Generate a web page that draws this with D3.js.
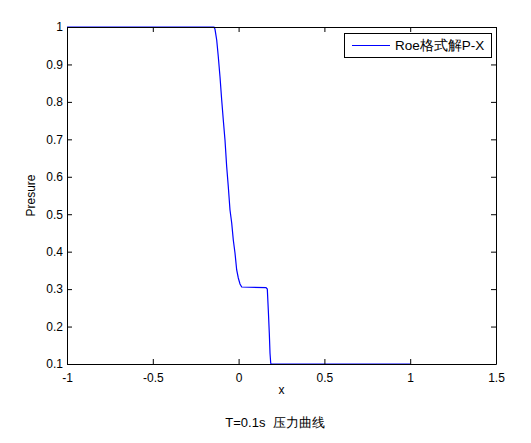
<!DOCTYPE html>
<html><head><meta charset="utf-8">
<script src="https://cdn.jsdelivr.net/npm/d3@7"></script>
<style>
body{margin:0;background:#fff;}
text{font-family:"Liberation Sans",Arial,sans-serif;}
</style></head>
<body><svg id="c" width="531" height="443"></svg>
<script>
const xs = [-1, -0.1434, -0.1375, -0.1276, -0.1183, -0.1084, -0.0985, -0.0892, -0.0793, -0.0694, -0.0600, -0.0501, -0.0402, -0.0309, -0.0210, -0.0111, -0.0017, 0.0082, 0.0181, 0.1597, 0.1673, 0.1731, 0.1789, 0.1830, 0.1871, 0.1888, 1];
const ps = [1, 1, 0.9939, 0.9653, 0.9207, 0.8673, 0.8050, 0.7516, 0.6982, 0.6269, 0.5735, 0.5113, 0.4766, 0.4312, 0.3965, 0.3511, 0.3297, 0.3137, 0.3056, 0.3038, 0.300, 0.2442, 0.1828, 0.1294, 0.1027, 0.1, 0.1];
const xTicks = [-1, -0.5, 0, 0.5, 1, 1.5];
const yTicks = [0.1, 0.2, 0.3, 0.4, 0.5, 0.6, 0.7, 0.8, 0.9, 1];
const legendLabel = "Roe格式解P-X";
const xLabel = "x";
const yLabel = "Presure";
const title = "T=0.1s  压力曲线";

const L = 67, R = 496, T = 27, B = 364;
const svg = d3.select("#c");
const x = d3.scaleLinear().domain([-1, 1.5]).range([L, R]);
const y = d3.scaleLinear().domain([0.1, 1]).range([B, T]);

// data line
const data = xs.map((v, i) => [v, ps[i]]);
svg.append("path").datum(data)
  .attr("fill", "none").attr("stroke", "#0000ff").attr("stroke-width", 1.2)
  .attr("d", d3.line().x(d => x(d[0])).y(d => y(d[1])));

// axes
const fmt = d => String(d);
const gx = svg.append("g").attr("transform", `translate(0,${B})`)
  .call(d3.axisBottom(x).tickValues(xTicks).tickFormat(fmt).tickSizeInner(-5).tickSizeOuter(0).tickPadding(9));
const gxt = svg.append("g").attr("transform", `translate(0,${T})`)
  .call(d3.axisTop(x).tickValues(xTicks).tickFormat("").tickSizeInner(-5).tickSizeOuter(0));
const gy = svg.append("g").attr("transform", `translate(${L},0)`)
  .call(d3.axisLeft(y).tickValues(yTicks).tickFormat(fmt).tickSizeInner(-5).tickSizeOuter(0).tickPadding(4));
const gyr = svg.append("g").attr("transform", `translate(${R},0)`)
  .call(d3.axisRight(y).tickValues(yTicks).tickFormat("").tickSizeInner(-5).tickSizeOuter(0));
[gx, gxt, gy, gyr].forEach(g => {
  g.selectAll("path.domain").attr("stroke", "#000").attr("stroke-width", 1);
  g.selectAll("line").attr("stroke", "#000");
  g.selectAll("text").attr("font-size", 12).attr("fill", "#000").attr("font-family", "'Liberation Sans',Arial,sans-serif");
});
gx.selectAll("text").attr("dy", "0.71em");

// labels
svg.append("text").attr("x", (L + R) / 2).attr("y", 394).attr("text-anchor", "middle")
  .attr("font-size", 12).text(xLabel);
svg.append("text").attr("transform", `translate(35,${(T + B) / 2}) rotate(-90)`)
  .attr("text-anchor", "middle").attr("font-size", 12).text(yLabel);
svg.append("text").attr("x", 275).attr("y", 427).attr("text-anchor", "middle")
  .style("white-space", "pre")
  .attr("font-size", 13).attr("font-family", "'Liberation Sans','Noto Sans CJK SC',sans-serif").text(title);

// legend
const lg = svg.append("g");
lg.append("rect").attr("x", 344.5).attr("y", 33.5).attr("width", 147).attr("height", 24)
  .attr("fill", "#fff").attr("stroke", "#000");
lg.append("line").attr("x1", 352).attr("x2", 390).attr("y1", 45.5).attr("y2", 45.5)
  .attr("stroke", "#0000ff").attr("stroke-width", 1);
lg.append("text").attr("x", 395).attr("y", 50).attr("font-size", 13.5)
  .attr("font-family", "'Liberation Sans','Noto Sans CJK SC',sans-serif").text(legendLabel);
</script></body></html>
